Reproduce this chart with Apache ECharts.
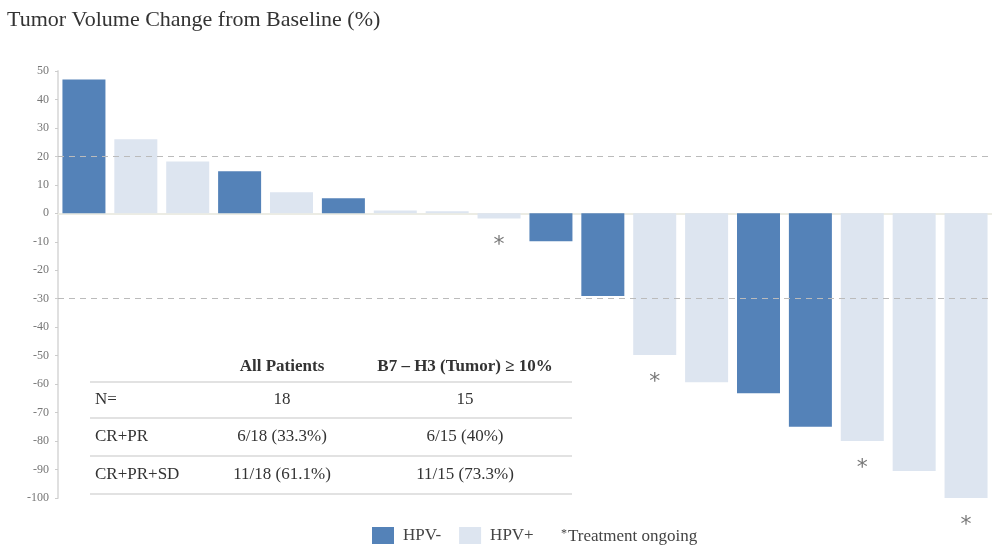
<!DOCTYPE html>
<html>
<head>
<meta charset="utf-8">
<script src="https://cdn.jsdelivr.net/npm/echarts@6/dist/echarts.min.js"></script>
<style>
  html, body { margin: 0; padding: 0; background: #fff; }
  #chart { width: 992px; height: 551px; }
</style>
</head>
<body>
<div id="chart"></div>
<script>
// patients, ordered as in the waterfall
const patients = ['1','2','3','4','5','6','7','8','9','10','11','12','13','14','15','16','17','18'];
const change = [47, 26, 18.2, 14.8, 7.4, 5.3, 1, 0.7, -1.8, -9.8, -29, -49.8, -59.3, -63.2, -75, -80, -90.5, -100];
// 'neg' = HPV-, 'pos' = HPV+
const hpv = ['neg','pos','pos','neg','pos','neg','pos','pos','pos','neg','neg','pos','pos','neg','neg','pos','pos','pos'];
const ongoing = ['9', '12', '16', '18'];   // treatment ongoing (*)
const refLines = [20, -30];

const tableHeader = ['', 'All Patients', 'B7 – H3 (Tumor) ≥ 10%'];
const tableRows = [
  ['N=', '18', '15'],
  ['CR+PR', '6/18 (33.3%)', '6/15 (40%)'],
  ['CR+PR+SD', '11/18 (61.1%)', '11/15 (73.3%)'],
];

const DARK = '#5482b8';
const LIGHT = '#dde5f0';
const SERIF = '"Liberation Serif", "DejaVu Serif", serif';

const negData = change.map((v, i) => hpv[i] === 'neg' ? v : null);
const posData = change.map((v, i) => hpv[i] === 'pos' ? v : null);
const starData = patients.map((p, i) => ongoing.includes(p) ? [p, change[i]] : null).filter(d => d);

// table drawn as graphic text + rules
const tableG = [];
const colX = [95, 282, 465];
const headerY = 367;
const rowY = [400, 437, 475];
const ruleY = [382, 418, 456, 494];
tableHeader.forEach((t, j) => {
  if (!t) return;
  tableG.push({ type: 'text', x: colX[j], y: headerY, style: {
    text: t, font: 'bold 17px ' + SERIF, fill: '#333', align: 'center', verticalAlign: 'middle' } });
});
tableRows.forEach((row, r) => {
  row.forEach((t, j) => {
    tableG.push({ type: 'text', x: colX[j], y: rowY[r], style: {
      text: t, font: '17px ' + SERIF, fill: '#333', align: j === 0 ? 'left' : 'center', verticalAlign: 'middle' } });
  });
});
ruleY.forEach(y => {
  tableG.push({ type: 'line', shape: { x1: 90, y1: y, x2: 572, y2: y }, style: { stroke: '#e2e2e2', lineWidth: 2 } });
});

const chart = echarts.init(document.getElementById('chart'));
chart.setOption({
  animation: false,
  title: {
    text: 'Tumor Volume Change from Baseline (%)',
    left: 2, top: 4,
    textStyle: { fontFamily: SERIF, fontSize: 22, fontWeight: 'normal', color: '#333' }
  },
  grid: { left: 58, right: 0, top: 71, bottom: 53, outerBoundsMode: 'none' },
  legend: {
    data: ['HPV-', 'HPV+'],
    left: 372, top: 527, padding: 0,
    itemWidth: 22, itemHeight: 17, itemGap: 18,
    icon: 'rect',
    textStyle: { fontFamily: SERIF, fontSize: 17, color: '#444', padding: [0, 0, 0, 4] }
  },
  xAxis: {
    type: 'category',
    data: patients,
    axisLine: { onZero: true, lineStyle: { color: '#ecece4', width: 2 } },
    axisTick: { show: false },
    axisLabel: { show: false }
  },
  yAxis: {
    type: 'value',
    min: -100, max: 50, interval: 10,
    splitLine: { show: false },
    axisLine: { show: true, lineStyle: { color: '#e0e0e0', width: 2 } },
    axisTick: { show: true, length: 3, lineStyle: { color: '#ccc' } },
    axisLabel: { fontFamily: SERIF, fontSize: 12, color: '#777', margin: 9 }
  },
  series: [
    {
      name: 'HPV-', type: 'bar', stack: 'all', data: negData,
      barWidth: 43, itemStyle: { color: DARK },
      markLine: {
        silent: true, symbol: 'none', label: { show: false },
        lineStyle: { color: '#bbb', type: [6, 5], width: 1 },
        data: refLines.map(v => ({ yAxis: v }))
      }
    },
    {
      name: 'HPV+', type: 'bar', stack: 'all', data: posData,
      barWidth: 43, itemStyle: { color: LIGHT }
    },
    {
      name: 'ongoing', type: 'scatter', data: starData,
      symbolSize: 0, silent: true,
      label: {
        show: true, formatter: '*', position: 'bottom', distance: 16,
        fontFamily: '"DejaVu Sans", sans-serif', fontSize: 22, color: '#555'
      }
    }
  ],
  graphic: [
    ...tableG,
    { type: 'text', x: 561, y: 537, style: {
      text: '{s|*}Treatment ongoing',
      rich: { s: { fontFamily: SERIF, fontSize: 12, verticalAlign: 'top', padding: [0, 1, 7, 0], fill: '#444' } },
      font: '17px ' + SERIF, fill: '#444', verticalAlign: 'middle' } }
  ]
});
window.addEventListener('resize', () => chart.resize());
</script>
</body>
</html>
